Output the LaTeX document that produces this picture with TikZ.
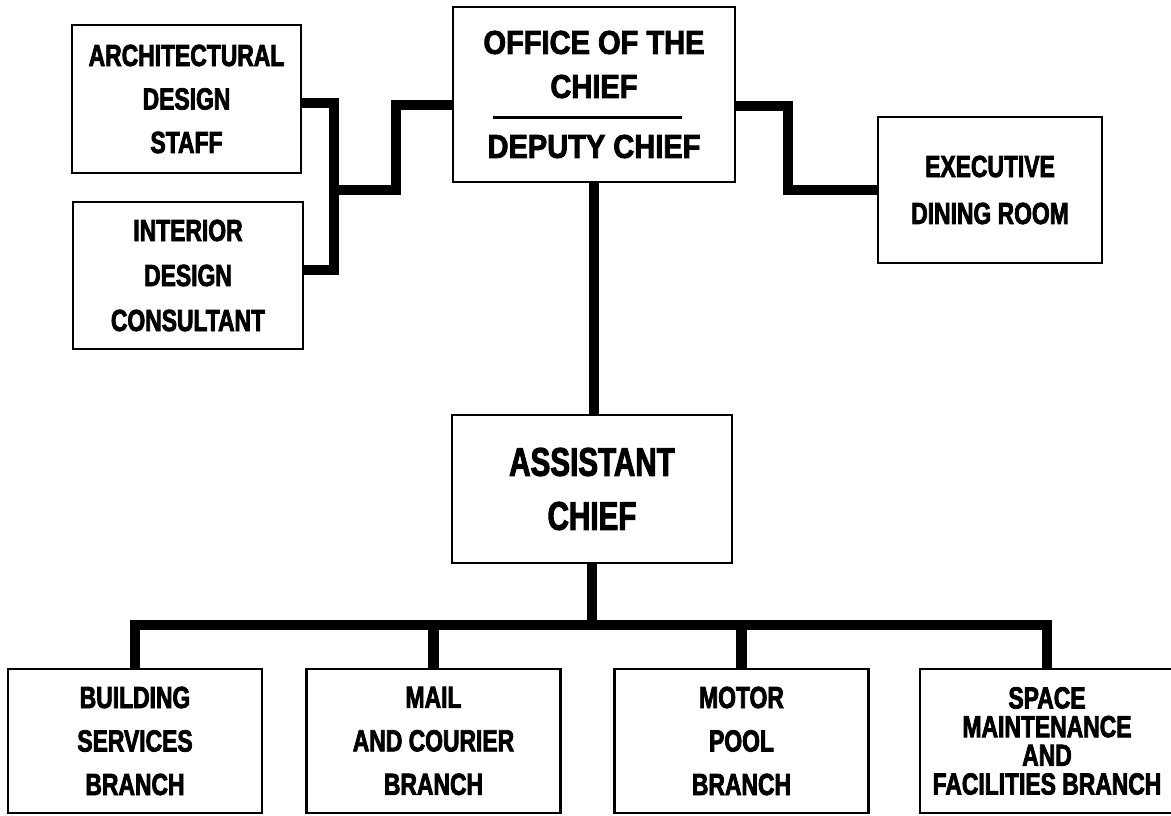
\documentclass[tikz,border=0pt]{standalone}
\usepackage{fontspec}
% Condensed heavy sans for the chart labels
\newfontfamily\chartfont{Liberation Sans}[FakeStretch=0.75, BoldFeatures={FakeBold=2.5}]
\newfontfamily\chiefont{Liberation Sans}[FakeStretch=0.88, BoldFeatures={FakeBold=2.5}]
\newfontfamily\asstfont{Liberation Sans}[FakeStretch=0.74, BoldFeatures={FakeBold=2.5}]

\begin{document}
\begin{tikzpicture}[x=1pt, y=-1pt,
  box/.style={draw=black, line width=2.5pt, inner sep=0pt, align=center,
    font=\chartfont\bfseries\fontsize{30.5}{43.5}\selectfont},
  branch/.style={box, minimum width=254pt, minimum height=144pt},
  conn/.style={draw=black, line width=10.5pt, line join=miter},
  rule/.style={draw=black, line width=3pt}
]
\useasboundingbox (0,0) rectangle (1171,816);
\fill[white] (0,0) rectangle (1171,816);
\clip (0,0) rectangle (1171,816);

% Top level
\node[box, minimum width=282pt, minimum height=175pt,
      font=\chiefont\bfseries\fontsize{33}{44}\selectfont] (office) at (594,94.5)
  {OFFICE OF THE\\CHIEF\\[16pt]DEPUTY CHIEF};
\draw[rule] ([xshift=-101pt,yshift=-22.5pt]office.center) -- ([xshift=88pt,yshift=-22.5pt]office.center);

% Staff units
\node[box, minimum width=229pt, minimum height=148pt] (arch) at (186.5,99)
  {ARCHITECTURAL\\DESIGN\\STAFF};
\node[box, minimum width=230pt, minimum height=147pt,
      font=\chartfont\bfseries\fontsize{30.5}{45}\selectfont] (interior) at (188,275.5)
  {INTERIOR\\DESIGN\\CONSULTANT};
\node[box, minimum width=224pt, minimum height=146pt,
      font=\chartfont\bfseries\fontsize{30.5}{47}\selectfont] (exec) at (990,190)
  {EXECUTIVE\\DINING ROOM};

% Assistant chief
\node[box, minimum width=280pt, minimum height=148pt,
      font=\asstfont\bfseries\fontsize{40}{54}\selectfont] (asst) at (592,489)
  {ASSISTANT\\CHIEF};

% Branches
\node[branch] (build) at (135,741) {BUILDING\\SERVICES\\BRANCH};
\node[branch] (mail) at (433.5,741) {MAIL\\AND COURIER\\BRANCH};
\node[branch] (motor) at (741.5,741) {MOTOR\\POOL\\BRANCH};
\node[branch, font=\chartfont\bfseries\fontsize{30.5}{28.7}\selectfont] (space) at (1047,741)
  {SPACE\\MAINTENANCE\\AND\\FACILITIES BRANCH};

% Junction points of the connectors
\coordinate (jl) at (334,190);
\coordinate (jm) at (396,190);
\coordinate (jr) at (788,190);
\coordinate (bus) at (592,625);

% Connectors
\draw[conn] ([yshift=-4pt]arch.east) -| (jl) |- ([yshift=5.5pt]interior.east);
\draw[conn] (jl) -- (jm) |- ([yshift=-10.5pt]office.west);
\draw[conn] ([yshift=-11.5pt]office.east) -| (jr) |- (exec.west);
\draw[conn] (office.south) -- (office.south |- asst.north);
\draw[conn] (asst.south) -- (asst.south |- bus);
\draw[conn] (build.north) |- (bus) -| (space.north);
\draw[conn] (mail.north) -- (mail.north |- bus);
\draw[conn] (motor.north) -- (motor.north |- bus);
\end{tikzpicture}
\end{document}
